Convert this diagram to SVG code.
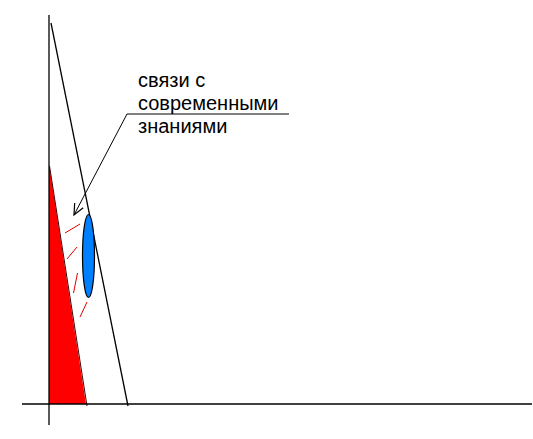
<svg xmlns="http://www.w3.org/2000/svg" width="533" height="439" viewBox="0 0 533 439">
<style>
.ax{stroke:#000;stroke-width:1.3;fill:none}
.rd{stroke:#e00000;stroke-width:1;fill:none}
.t{font-family:"Liberation Sans",Arial,sans-serif;font-size:20px;fill:#000}
</style>
<defs>
<marker id="arr" viewBox="0 0 12 12" refX="11" refY="6" markerWidth="12" markerHeight="12" markerUnits="userSpaceOnUse" orient="auto">
<path d="M0,1 L11,6 L0,11" fill="none" stroke="#000" stroke-width="1.2"/>
</marker>
</defs>
<rect width="533" height="439" fill="#fff"/>
<g id="red-wedge"><polygon points="49,164 86,404 49,404" fill="#ff0000" stroke="none"/><line x1="49.5" y1="166" x2="87" y2="406" stroke="#400" stroke-width="1"/></g>
<g id="axes">
<line class="ax" x1="49" y1="15" x2="49" y2="425"/>
<line class="ax" x1="22" y1="404" x2="532" y2="404"/>
<line class="ax" x1="51" y1="23" x2="128" y2="406"/>
</g>
<g id="ellipse"><ellipse cx="88.5" cy="256" rx="6" ry="41.5" fill="#0080ff" stroke="#000" stroke-width="1.2"/></g>
<g id="dashes">
<line class="rd" x1="65" y1="233" x2="80" y2="224"/>
<line class="rd" x1="67" y1="259" x2="77" y2="247"/>
<line class="rd" x1="73.5" y1="293" x2="77.5" y2="273"/>
<line class="rd" x1="80" y1="317" x2="87" y2="302"/>
</g>
<g id="connectors">
<polyline points="289,114 127,114 74,215" fill="none" stroke="#000" stroke-width="1" marker-end="url(#arr)"/>
</g>
<g id="label">
<text class="t" x="138" y="87">связи с</text>
<text class="t" x="138" y="110">современными</text>
<text class="t" x="138" y="133">знаниями</text>
</g>
</svg>
